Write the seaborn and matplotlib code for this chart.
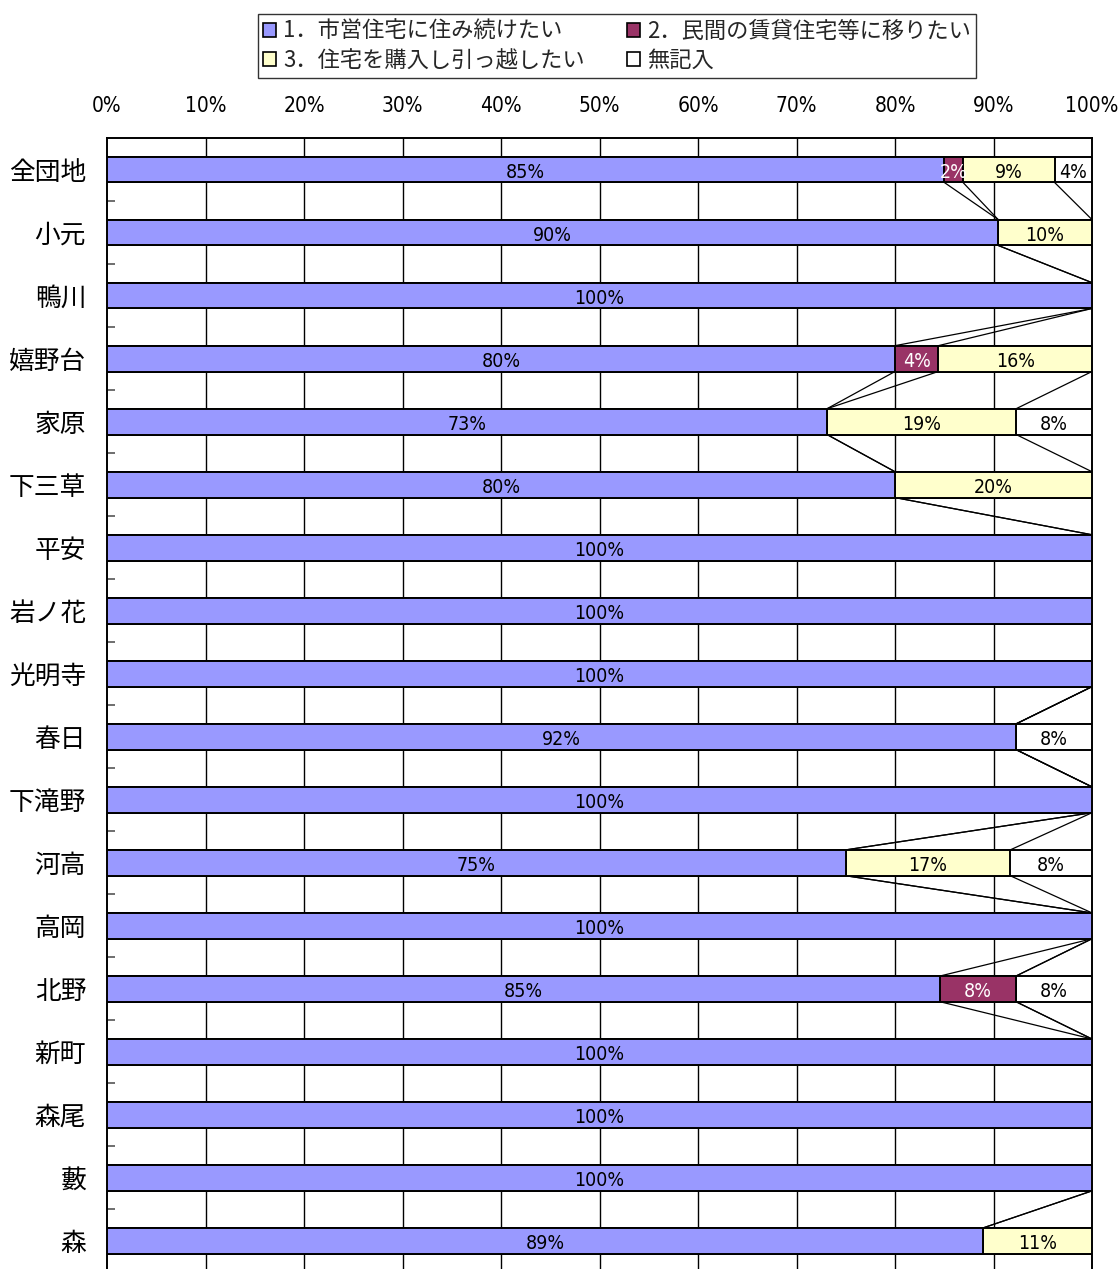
import numpy as np
import pandas as pd
import matplotlib
matplotlib.use("Agg")
import matplotlib.pyplot as plt
from matplotlib import font_manager
from matplotlib.patches import Patch
from matplotlib.ticker import FixedLocator
import seaborn as sns

# --- data -----------------------------------------------------------------
categories = ["全団地", "小元", "鴨川", "嬉野台", "家原", "下三草", "平安", "岩ノ花",
              "光明寺", "春日", "下滝野", "河高", "高岡", "北野", "新町", "森尾", "藪", "森"]
stay = [85.0, 90.48, 100, 80.0, 73.1, 80.0, 100, 100, 100, 92.3, 100, 75.0, 100, 84.6, 100, 100, 100, 88.9]
rent = [1.9, 0, 0, 4.4, 0, 0, 0, 0, 0, 0, 0, 0, 0, 7.7, 0, 0, 0, 0]
buy = [9.3, 9.52, 0, 15.6, 19.2, 20.0, 0, 0, 0, 0, 0, 16.7, 0, 0, 0, 0, 0, 11.1]
blank = [3.8, 0, 0, 0, 7.7, 0, 0, 0, 0, 7.7, 0, 8.3, 0, 7.7, 0, 0, 0, 0]
series_names = ["1．市営住宅に住み続けたい", "2．民間の賃貸住宅等に移りたい",
                "3．住宅を購入し引っ越したい", "無記入"]
series_colors = ["#9999FF", "#993366", "#FFFFCC", "#FFFFFF"]
x_ticks = [0, 10, 20, 30, 40, 50, 60, 70, 80, 90, 100]

# --- styling --------------------------------------------------------------
sns.set_theme(style="white")
plt.rcParams["font.family"] = ["Noto Sans CJK JP", "DejaVu Sans"]

# a narrow face for the percentage figures, if one is installed
narrow_files = [f for f in font_manager.fontManager.ttflist
                if ("Narrow" in f.name or "Condensed" in f.name or
                    "Narrow" in f.fname or "Condensed" in f.fname)
                and "Bold" not in f.fname and "Italic" not in f.fname
                and "Oblique" not in f.fname]
if narrow_files:
    NUM_PROPS = dict(fontproperties=font_manager.FontProperties(fname=narrow_files[0].fname))
else:
    NUM_PROPS = dict(family=["Liberation Sans", "DejaVu Sans"])


def num_font(size):
    if "fontproperties" in NUM_PROPS:
        fp = NUM_PROPS["fontproperties"].copy()
        fp.set_size(size)
        return dict(fontproperties=fp)
    return dict(family=NUM_PROPS["family"], fontsize=size)


df = pd.DataFrame({"団地": categories, "s1": stay, "s2": rent, "s3": buy, "s4": blank})
vals = df[["s1", "s2", "s3", "s4"]].to_numpy(dtype=float)
cum = np.cumsum(vals, axis=1)
df["c1"], df["c2"], df["c3"], df["c4"] = cum[:, 0], cum[:, 1], cum[:, 2], cum[:, 3]

fig = plt.figure(figsize=(11.19, 12.69), dpi=100)
ax = fig.add_axes([107 / 1119, -3.5 / 1269, 985 / 1119, (1269 - 138 + 3.5) / 1269])

BAR_W = 0.41
# stacked bars: draw cumulative totals from the widest layer down
for col, color in zip(["c4", "c3", "c2", "c1"], series_colors[::-1]):
    sns.barplot(data=df, x=col, y="団地", orient="h", color=color, saturation=1,
                width=BAR_W, edgecolor="black", linewidth=1.4, ax=ax, zorder=3)

# series lines joining segment boundaries between neighbouring bars
half = BAR_W / 2
n = len(categories)
for k in range(3):
    for i in range(n - 1):
        ax.plot([cum[i, k], cum[i + 1, k]], [i + half, i + 1 - half],
                color="black", linewidth=0.9, zorder=2)

# segment value labels
for i in range(n):
    left = 0.0
    for k in range(4):
        v = vals[i, k]
        if v > 0:
            ax.text(left + v / 2, i + 0.04, f"{v:.0f}%", ha="center", va="center",
                    color="white" if k == 1 else "black", zorder=5, **num_font(14))
        left += v

ax.set_xlim(0, 100)
ax.set_ylim(n - 0.5, -0.5)
ax.set_xlabel("")
ax.set_ylabel("")

# percentage scale along the top, vertical gridlines
ax.xaxis.tick_top()
ax.set_xticks(x_ticks)
ax.set_xticklabels([f"{t}%" for t in x_ticks], **num_font(15))
ax.tick_params(axis="x", length=0, pad=16, colors="black")
for t in x_ticks[1:-1]:
    ax.axvline(t, color="black", linewidth=1.0, zorder=1)

ax.set_yticks(range(n))
ax.set_yticklabels(categories, fontsize=18.5)
ax.tick_params(axis="y", which="major", length=0, pad=15, colors="black")
ax.yaxis.set_minor_locator(FixedLocator(np.arange(0.5, n - 0.5, 1.0)))
ax.tick_params(axis="y", which="minor", direction="in", length=6, width=1.2,
               color="#555555", left=True)

for side in ["top", "bottom", "left", "right"]:
    ax.spines[side].set_visible(True)
    ax.spines[side].set_color("black")
    ax.spines[side].set_linewidth(1.4)

# legend above the chart, filled row by row
handles = [Patch(facecolor=c, edgecolor="black", linewidth=1.2) for c in series_colors]
order = [0, 2, 1, 3]
leg = fig.legend([handles[i] for i in order], [series_names[i] for i in order],
                 loc="upper center", bbox_to_anchor=(617 / 1119, 1 - 14 / 1269),
                 ncol=2, frameon=True, fancybox=False, fontsize=16,
                 handlelength=0.6, handleheight=0.6, handletextpad=0.3,
                 columnspacing=1.9, labelspacing=0.3, borderpad=0.25,
                 borderaxespad=0)
leg.get_frame().set_edgecolor("black")
leg.get_frame().set_linewidth(1.0)

fig.savefig("out.png", dpi=100)
